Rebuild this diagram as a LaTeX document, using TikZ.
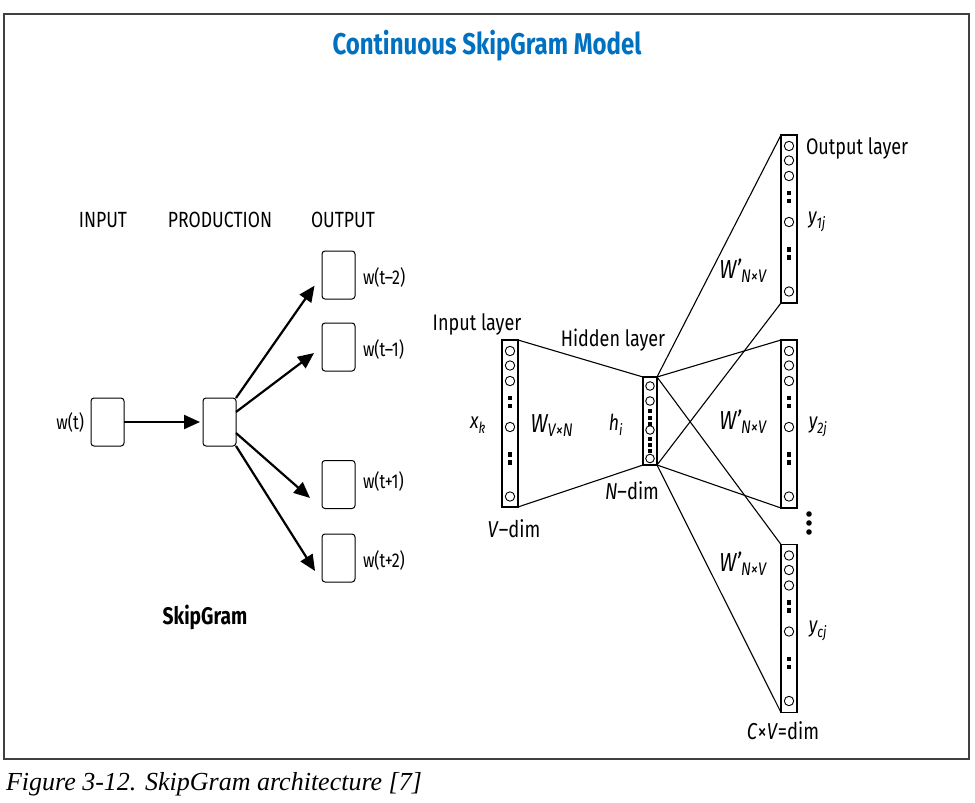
\documentclass[tikz,border=0pt]{standalone}
\usepackage{fontspec}
\setmainfont{Fira Sans}[FakeStretch=0.8]
\newfontfamily\capfont{Liberation Serif}
\usetikzlibrary{arrows.meta,positioning}
\definecolor{ttlblue}{HTML}{0070C0}

\begin{document}
\begin{tikzpicture}[x=1pt, y=-1pt,
    every node/.style={inner sep=0pt, outer sep=0pt},
    wbox/.style={draw, rounded corners=3pt, line width=1pt, minimum width=33pt, minimum height=48pt},
    arr/.style={line width=2.2pt, -{Triangle[length=16pt,width=14pt]}},
    col/.style={draw, line width=1.4pt, minimum width=16pt, minimum height=168pt},
    unit/.style={draw, circle, line width=0.9pt, minimum size=9.4pt},
    sq/.style={fill, minimum size=4.5pt},
    bigdot/.style={fill, circle, minimum size=5.6pt},
    lbl/.style={font=\fontsize{22}{24}\selectfont},
    layer/.style={font=\fontsize{22.5}{24}\selectfont},
    wlbl/.style={font=\fontsize{20}{22}\selectfont},
    wire/.style={line width=1.1pt}]
    \useasboundingbox (0,0) rectangle (975,803);
    % frame
    \draw[line width=1.3pt, black!75] (4,14) rectangle (969,759);
    % Title
    \node[font=\bfseries\fontsize{30}{32}\selectfont, text=ttlblue] (title) at (487,46) {Continuous SkipGram Model};
    % SkipGram headings
    \node[lbl] (hin) at (103,220) {INPUT};
    \node[lbl] (hprod) at (220,220) {PRODUCTION};
    \node[lbl] (hout) at (343,220) {OUTPUT};
    % boxes
    \node[wbox] (inbox) at (107.5,422) {};
    \node[wbox] (prod) at (219.5,422) {};
    \node[wbox] (o1) at (338.5,275) {};
    \node[wbox] (o2) at (338.5,347) {};
    \node[wbox] (o3) at (338.5,484.5) {};
    \node[wbox] (o4) at (338.5,558) {};
    % word labels
    \node[wlbl, left=7pt of inbox] (wt) {w(t)};
    \node[wlbl, right=8pt of o1, yshift=-2pt] (wm2) {w(t--2)};
    \node[wlbl, right=8pt of o2, yshift=-2pt] (wm1) {w(t--1)};
    \node[wlbl, right=8pt of o3, yshift=3pt] (wp1) {w(t+1)};
    \node[wlbl, right=8pt of o4, yshift=-2pt] (wp2) {w(t+2)};
    % arrows
    \draw[arr, shorten >=3pt] (inbox.east) -- (prod.west);
    \draw[arr, shorten >=13pt] (prod.north east) -- (o1.west);
    \draw[arr, shorten >=10pt] ([yshift=-14pt]prod.north east) -- (o2.west);
    \draw[arr, shorten >=16pt] ([yshift=-35pt]prod.north east) -- (o3.south west);
    \draw[arr, shorten >=13pt] (prod.south east) -- (o4.south west);
    \node[font=\bfseries\fontsize{24}{26}\selectfont] (sg) at (205,617) {SkipGram};
    % Network columns
    \node[col, minimum height=167pt] (inlay) at (510,423.5) {};
    \node[col, minimum width=14pt, minimum height=88pt] (hid) at (650,421) {};
    \node[col] (out1) at (789,219) {};
    \node[col] (out2) at (789,424) {};
    \node[col] (out3) at (789,628.5) {};
    % input column
    \node[unit] (i1) at (510,351) {};
    \node[unit] (i2) at (510,365.5) {};
    \node[unit] (i3) at (510,381) {};
    \node[sq] (i4) at (510,398) {};
    \node[sq] (i5) at (510,406) {};
    \node[unit] (i6) at (510,427) {};
    \node[sq] (i7) at (510,454.5) {};
    \node[sq] (i8) at (510,462.5) {};
    \node[unit] (i9) at (510,496.5) {};
    % hidden column
    \node[unit, minimum size=8.6pt] (h1) at (650,386) {};
    \node[unit, minimum size=8.6pt] (h2) at (650,401) {};
    \node[sq, minimum size=4pt] (h3) at (650,411) {};
    \node[sq, minimum size=4pt] (h4) at (650,417.5) {};
    \node[sq, minimum size=4pt] (h5) at (650,424) {};
    \node[unit, minimum size=8.6pt] (h6) at (650,430) {};
    \node[sq, minimum size=4pt] (h7) at (650,439) {};
    \node[sq, minimum size=4pt] (h8) at (650,445) {};
    \node[sq, minimum size=4pt] (h9) at (650,451) {};
    \node[unit, minimum size=8.6pt] (h10) at (650,458.5) {};
    % first output column
    \node[unit] (a1) at (789,146) {};
    \node[unit] (a2) at (789,160.5) {};
    \node[unit] (a3) at (789,176) {};
    \node[sq] (a4) at (789,193) {};
    \node[sq] (a5) at (789,201) {};
    \node[unit] (a6) at (789,222) {};
    \node[sq] (a7) at (789,249.5) {};
    \node[sq] (a8) at (789,257.5) {};
    \node[unit] (a9) at (789,291.5) {};
    % second output column
    \node[unit] (b1) at (789,351) {};
    \node[unit] (b2) at (789,365.5) {};
    \node[unit] (b3) at (789,381) {};
    \node[sq] (b4) at (789,398) {};
    \node[sq] (b5) at (789,406) {};
    \node[unit] (b6) at (789,427) {};
    \node[sq] (b7) at (789,454.5) {};
    \node[sq] (b8) at (789,462.5) {};
    \node[unit] (b9) at (789,496.5) {};
    % third output column
    \node[unit] (c1) at (789,555.5) {};
    \node[unit] (c2) at (789,570) {};
    \node[unit] (c3) at (789,585.5) {};
    \node[sq] (c4) at (789,602.5) {};
    \node[sq] (c5) at (789,610.5) {};
    \node[unit] (c6) at (789,631.5) {};
    \node[sq] (c7) at (789,659) {};
    \node[sq] (c8) at (789,667) {};
    \node[unit] (c9) at (789,701) {};
    % vertical dots
    \node[bigdot] (d1) at (809,514) {};
    \node[bigdot] (d2) at (809,523) {};
    \node[bigdot] (d3) at (809,532) {};
    % wires
    \draw[wire] (inlay.north east) -- (hid.north west);
    \draw[wire] (inlay.south east) -- (hid.south west);
    \draw[wire] (hid.north east) -- (out1.north west);
    \draw[wire] (hid.south east) -- (out1.south west);
    \draw[wire] (hid.north east) -- (out2.north west);
    \draw[wire] (hid.south east) -- (out2.south west);
    \draw[wire] (hid.north east) -- (out3.north west);
    \draw[wire] (hid.south east) -- (out3.south west);
    % layer captions
    \node[layer] (linput) at (477,324) {Input layer};
    \node[layer] (lhidden) at (613,340) {Hidden layer};
    \node[layer, anchor=west] (loutput) at (806,148) {Output layer};
    \node[layer, font=\fontsize{23}{24}\selectfont] (vdim) at (514,529) {\textit{V}--dim};
    \node[layer, font=\fontsize{23}{24}\selectfont] (ndim) at (632,491) {\textit{N}--dim};
    \node[layer, font=\fontsize{23}{24}\selectfont] (cvdim) at (783,731) {\textit{C}×\textit{V}=dim};
    % symbols
    \node[font=\itshape\fontsize{22}{22}\selectfont] (xk) at (478,425) {x\textsubscript{k}};
    \node[font=\itshape\fontsize{22}{22}\selectfont] (hi) at (616,425) {h\textsubscript{i}};
    \node[font=\itshape\fontsize{26}{26}\selectfont] (wvn) at (552,426) {W\textsubscript{V×N}};
    \node[font=\itshape\fontsize{26}{26}\selectfont] (w1) at (743,271) {W’\textsubscript{N×V}};
    \node[font=\itshape\fontsize{26}{26}\selectfont] (w2) at (743,422) {W’\textsubscript{N×V}};
    \node[font=\itshape\fontsize{26}{26}\selectfont] (w3) at (743,564) {W’\textsubscript{N×V}};
    \node[font=\itshape\fontsize{22}{22}\selectfont] (y1) at (817,222) {y\textsubscript{1j}};
    \node[font=\itshape\fontsize{22}{22}\selectfont] (y2) at (818,427) {y\textsubscript{2j}};
    \node[font=\itshape\fontsize{22}{22}\selectfont] (yc) at (818,631) {y\textsubscript{cj}};
    % Caption
    \node[anchor=base west, font=\capfont\itshape\fontsize{26}{28}\selectfont] (cap) at (6,790) {Figure 3-12. SkipGram architecture [7]};
\end{tikzpicture}
\end{document}
